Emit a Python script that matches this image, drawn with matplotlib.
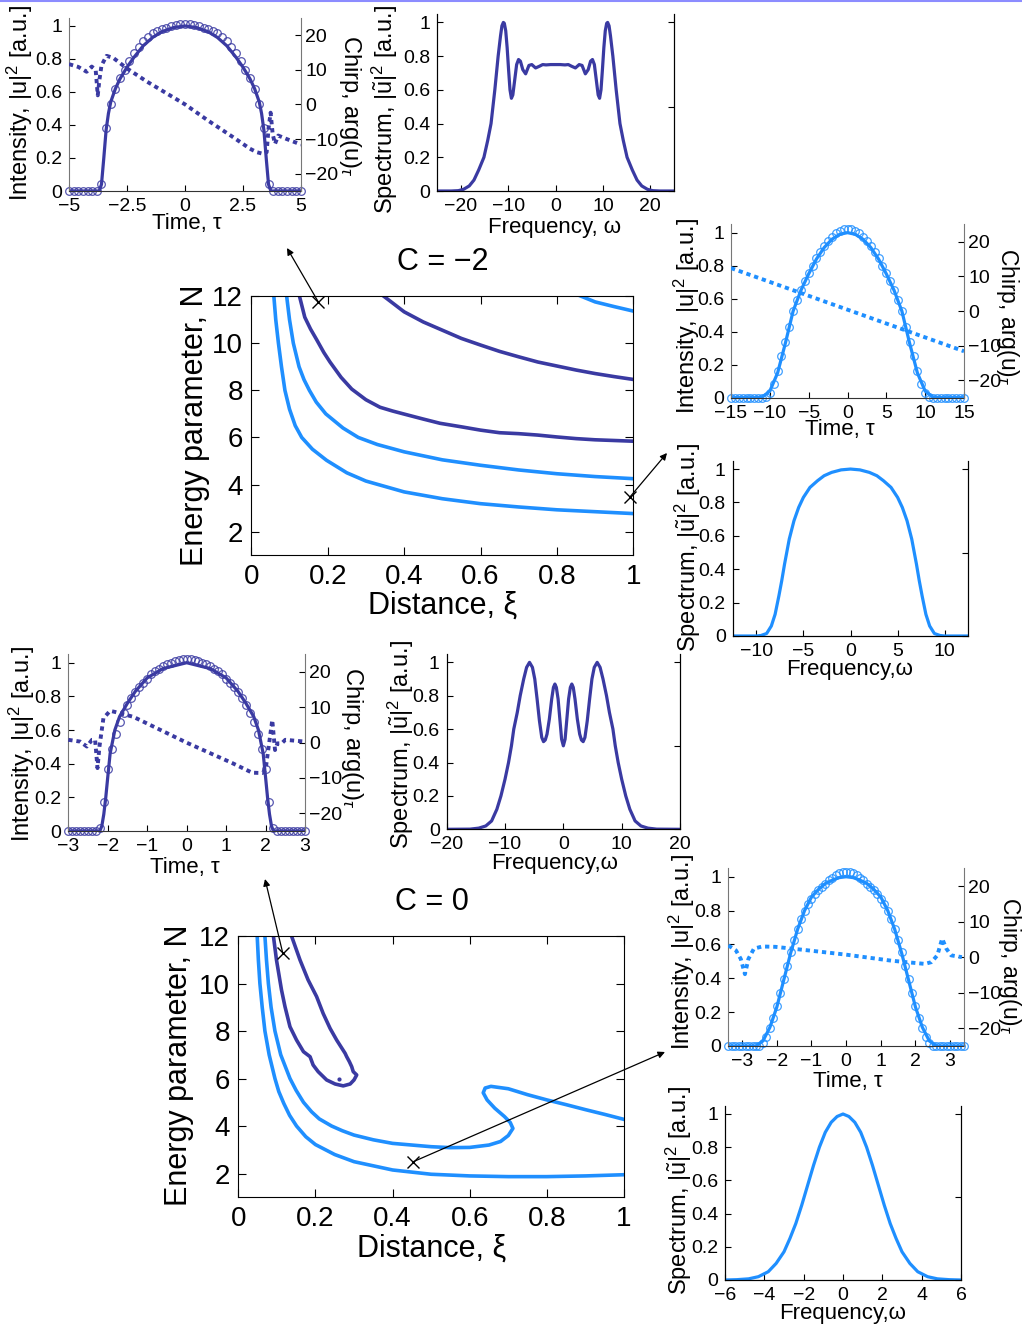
import numpy as np
import matplotlib
matplotlib.use("Agg")
import matplotlib.pyplot as plt
from matplotlib.lines import Line2D

plt.rcParams['font.family'] = ['Liberation Sans', 'DejaVu Sans']
plt.rcParams['mathtext.fontset'] = 'custom'
plt.rcParams['mathtext.rm'] = 'Liberation Sans'
plt.rcParams['mathtext.it'] = 'Liberation Sans:italic'
plt.rcParams['mathtext.sf'] = 'Liberation Sans'

DARK = '#3a3aa2'
LIGHT = '#1f8fff'

# ---- energy maps (distance xi, energy parameter N) ----
XI_TICKS = [0, 0.2, 0.4, 0.6, 0.8, 1]
XI_TICKLABELS = ['0', '0.2', '0.4', '0.6', '0.8', '1']
N_TICKS = [2, 4, 6, 8, 10, 12]

# C = -2
cm2_a_x = [0.059, 0.064, 0.071, 0.079, 0.088, 0.1, 0.115, 0.132, 0.16, 0.197, 0.25, 0.3, 0.4, 0.5, 0.6, 0.7, 0.8, 0.9, 1.0]
cm2_a_n = [12, 11, 10, 9, 8, 7.2, 6.5, 6.0, 5.5, 5.03, 4.5, 4.15, 3.69, 3.4, 3.19, 3.05, 2.93, 2.85, 2.77]
cm2_b_x = [0.0925, 0.1, 0.11, 0.125, 0.138, 0.152, 0.17, 0.195, 0.24, 0.28, 0.33, 0.4, 0.5, 0.6, 0.7, 0.8, 0.9, 1.0]
cm2_b_n = [12, 11, 10, 9, 8.45, 8, 7.5, 7, 6.4, 6.0, 5.7, 5.39, 5.05, 4.82, 4.62, 4.46, 4.34, 4.25]
cm2_c_x = [0.126, 0.14, 0.155, 0.171, 0.19, 0.206, 0.235, 0.263, 0.3, 0.337, 0.37, 0.398, 0.45, 0.494, 0.55,
           0.6, 0.65, 0.7, 0.75, 0.8, 0.85, 0.9, 0.95, 1.0]
cm2_c_n = [12, 11.1, 10.6, 10.15, 9.6, 9.2, 8.55, 8.05, 7.6, 7.28, 7.12, 7.0, 6.78, 6.6, 6.45,
           6.31, 6.2, 6.16, 6.1, 6.02, 5.95, 5.9, 5.87, 5.84]
cm2_d_x = [0.346, 0.4, 0.45, 0.5, 0.55, 0.6, 0.65, 0.7, 0.75, 0.8, 0.85, 0.9, 0.95, 1.0]
cm2_d_n = [12, 11.33, 10.9, 10.55, 10.2, 9.92, 9.65, 9.42, 9.2, 9.03, 8.86, 8.71, 8.58, 8.46]
cm2_e_x = [0.862, 0.9, 0.95, 1.0]
cm2_e_n = [12, 11.75, 11.55, 11.36]
cm2_marks = [(0.175, 11.76), (0.991, 3.47)]

# C = 0
c0_a_x = [0.049, 0.052, 0.056, 0.062, 0.069, 0.08, 0.095, 0.105, 0.118, 0.133, 0.151, 0.175, 0.2, 0.25,
          0.3, 0.4, 0.5, 0.6, 0.7, 0.8, 0.9, 1.0]
c0_a_n = [12, 11, 10, 9, 8, 7, 6, 5.45, 4.95, 4.45, 4.0, 3.55, 3.22, 2.8,
          2.5, 2.15, 1.97, 1.9, 1.87, 1.87, 1.9, 1.95]
c0_b_x = [0.069, 0.073, 0.078, 0.085, 0.095, 0.11, 0.134, 0.15, 0.169, 0.19, 0.21, 0.242, 0.27, 0.3, 0.35,
          0.4, 0.5, 0.55, 0.6, 0.65, 0.68, 0.7, 0.712, 0.705, 0.69, 0.665, 0.645, 0.635, 0.64, 0.655,
          0.7, 0.75, 0.8, 0.85, 0.9, 0.95, 1.0]
c0_b_n = [12, 11, 10, 9, 8, 7, 6, 5.5, 5, 4.6, 4.3, 4.0, 3.8, 3.62, 3.42,
          3.27, 3.13, 3.09, 3.1, 3.2, 3.35, 3.6, 3.9, 4.15, 4.4, 4.75, 5.1, 5.4, 5.6, 5.67,
          5.57, 5.32, 5.1, 4.9, 4.69, 4.49, 4.28]
c0_loop_x = [0.138, 0.16, 0.181, 0.203, 0.22, 0.238, 0.255, 0.277, 0.281, 0.288, 0.294, 0.298, 0.307, 0.3,
             0.29, 0.272, 0.251, 0.229, 0.207, 0.194, 0.186, 0.169, 0.151, 0.134, 0.121, 0.112, 0.099, 0.091]
c0_loop_n = [12, 10.99, 10.15, 9.45, 8.74, 8.11, 7.62, 7.06, 6.92, 6.71, 6.5, 6.29, 6.15, 5.94,
             5.77, 5.69, 5.77, 5.94, 6.29, 6.57, 6.92, 7.13, 7.62, 8.18, 9.03, 9.73, 10.99, 12]
c0_dot = (0.262, 6.0)
c0_marks = [(0.115, 11.3), (0.454, 2.5)]

# ---- pulse profiles: intensity (line + circles) and chirp ----
INT_TICKS = [0, 0.2, 0.4, 0.6, 0.8, 1]
INT_TICKLABELS = ['0', '0.2', '0.4', '0.6', '0.8', '1']
CHIRP_TICKS = [-20, -10, 0, 10, 20]

# C = -2, xi = 0.18
p1_t_line_half = [0, 0.5, 1.0, 1.4, 1.8, 2.2, 2.5, 2.8, 3.0, 3.2, 3.3, 3.4, 3.5, 3.6, 3.7, 5.0]
p1_i_line_half = [1.0, 0.99, 0.965, 0.93, 0.88, 0.81, 0.75, 0.68, 0.62, 0.54, 0.47, 0.37, 0.2, 0.04, 0, 0]
p1_dots_half = [1.01, 1.01, 1.005, 1.0, 0.99, 0.98, 0.97, 0.955, 0.935, 0.91, 0.875, 0.835, 0.785,
                0.735, 0.685, 0.615, 0.525, 0.38, 0.04, 0, 0, 0, 0, 0, 0, 0]
p1_t_chirp = [-5, -4.6, -4.24, -4.02, -3.85, -3.76, -3.69, -3.6, -3.5, -3.38, -3.09, -2.51, -1.65, 0,
              1.0, 2.08, 2.8, 3.09, 3.38, 3.52, 3.6, 3.69, 3.78, 3.88, 4.02, 4.38, 5]
p1_chirp = [11.6, 10.8, 9.4, 10.9, 9.9, 2.6, 7.0, 11.2, 12.5, 14.0, 13.4, 10.4, 6.6, 0,
            -4.7, -9.5, -12.8, -13.8, -14.3, -13.8, -7.0, -2.4, -8.6, -11.4, -9.0, -10.0, -11.6]

# C = -2, xi = 1
p4_t_line_half = [0, 1, 2, 3, 4, 5, 6, 7, 8, 9, 10, 11, 12, 13, 14, 15]
p4_i_line_half = [1.0, 0.99, 0.96, 0.91, 0.84, 0.75, 0.65, 0.525, 0.33, 0.15, 0.04, 0.003, 0, 0, 0, 0]
p4_dots_half = [1.02, 1.02, 1.01, 0.995, 0.975, 0.95, 0.92, 0.885, 0.845, 0.8, 0.755, 0.705, 0.65, 0.59,
                0.525, 0.43, 0.34, 0.25, 0.16, 0.085, 0.03, 0.005, 0, 0, 0, 0, 0, 0, 0, 0, 0]
p4_t_chirp = [-15, -10, -5, 0, 5, 10, 15]
p4_chirp = [12.4, 8.4, 4.4, 0.4, -3.6, -7.6, -11.6]

# C = 0, xi = 0.115
p6_t_line_half = [0, 0.6, 1.0, 1.3, 1.5, 1.7, 1.82, 1.94, 2.0, 2.05, 2.1, 2.15, 2.2, 3.0]
p6_i_line_half = [1.0, 0.965, 0.91, 0.83, 0.76, 0.68, 0.6, 0.46, 0.32, 0.2, 0.1, 0.03, 0, 0]
p6_dots_half = [1.02, 1.02, 1.015, 1.01, 1.0, 0.99, 0.98, 0.965, 0.95, 0.93, 0.905, 0.88, 0.855, 0.825,
                0.79, 0.75, 0.7, 0.645, 0.575, 0.49, 0.37, 0.17, 0.02, 0, 0, 0, 0, 0, 0, 0, 0]
p6_t_chirp = [-3, -2.7, -2.53, -2.4, -2.32, -2.26, -2.21, -2.11, -1.94, -1.82, -1.35, 0,
              1.16, 1.66, 1.92, 2.0, 2.17, 2.24, 2.3, 2.41, 2.5, 3]
p6_chirp = [0.8, 0.3, -1.1, 0.8, 0.8, -7.2, -1.1, 6.9, 9.0, 8.7, 7.3, 0,
            -5.8, -8.5, -8.6, -7.7, 6.4, -2.1, -0.2, -0.2, 0.8, 0.3]

# C = 0, xi = 0.45
p9_t_line_half = [0, 0.2, 0.4, 0.6, 0.8, 1.0, 1.2, 1.4, 1.6, 1.8, 2.0, 2.2, 2.4, 2.6, 2.8, 3.0, 3.2, 3.4]
p9_i_line_half = [1.0, 0.995, 0.98, 0.96, 0.925, 0.88, 0.8, 0.69, 0.55, 0.39, 0.23, 0.11, 0.03, 0, 0, 0, 0, 0]
p9_dots_half = [1.03, 1.03, 1.02, 1.01, 0.995, 0.98, 0.96, 0.94, 0.92, 0.9, 0.87, 0.84, 0.8, 0.75,
                0.69, 0.625, 0.555, 0.475, 0.395, 0.315, 0.235, 0.165, 0.105, 0.055, 0.02, 0.0,
                0, 0, 0, 0, 0, 0, 0, 0, 0]
p9_t_chirp = [-3.4, -3.18, -3.04, -2.92, -2.82, -2.66, -2.42, -2.04, -1.09, 0, 1.31, 2.27,
              2.46, 2.63, 2.77, 2.89, 3.03, 3.34]
p9_chirp = [3.3, 1.9, -0.5, -4.8, -0.5, 2.4, 3.0, 2.9, 1.9, 0.7, -1.0, -1.9,
            -1.4, 0.5, 5.2, 2.4, 0.5, 0.0]

# ---- spectra (half profiles, symmetric in omega) ----
p2_w_half = [0, 1.0, 2.0, 2.7, 3.4, 4.2, 5.0, 5.6, 6.3, 6.9, 7.4, 7.8, 8.2, 8.6, 9.0, 9.3, 9.6, 9.9,
             10.2, 10.5, 10.8, 11.0, 11.3, 11.6, 12.1, 12.8, 13.6, 14.3, 15.1, 16.2, 17.2, 18.2, 19.4, 20.5, 22, 25]
p2_s_half = [0.75, 0.75, 0.748, 0.75, 0.74, 0.73, 0.75, 0.745, 0.695, 0.72, 0.77, 0.78, 0.75, 0.66, 0.57, 0.55,
             0.6, 0.72, 0.85, 0.95, 0.995, 1.0, 0.98, 0.92, 0.8, 0.6, 0.4, 0.3, 0.2, 0.125, 0.065, 0.03,
             0.01, 0.002, 0, 0]
p5_w_half = [0, 1, 2, 2.8, 3.5, 4.3, 5.0, 5.5, 6.0, 6.5, 7.0, 7.3, 7.6, 8.0, 8.4, 8.9, 9.5, 10, 12.5]
p5_s_half = [1.0, 0.995, 0.98, 0.96, 0.93, 0.89, 0.83, 0.77, 0.69, 0.58, 0.43, 0.33, 0.24, 0.13, 0.06,
             0.015, 0.003, 0, 0]
p7_w_half = [0, 0.3, 0.6, 0.9, 1.2, 1.45, 1.7, 2.0, 2.4, 2.8, 3.1, 3.4, 3.7, 4.1, 4.5, 4.9, 5.3, 5.8,
             6.3, 6.8, 7.4, 7.9, 8.5, 8.9, 9.4, 10.0, 10.7, 11.4, 12.3, 13.3, 14.5, 16, 20]
p7_s_half = [0.5, 0.54, 0.66, 0.78, 0.85, 0.87, 0.85, 0.78, 0.66, 0.57, 0.535, 0.525, 0.55, 0.65, 0.78,
             0.9, 0.97, 1.0, 0.97, 0.9, 0.8, 0.7, 0.6, 0.5, 0.4, 0.3, 0.2, 0.12, 0.05, 0.02, 0.007, 0.001, 0]
p10_w_half = [0, 0.3, 0.6, 0.9, 1.2, 1.5, 1.8, 2.1, 2.4, 2.7, 3.0, 3.4, 3.8, 4.3, 4.8, 5.4, 6.0]
p10_s_half = [1.0, 0.985, 0.95, 0.89, 0.8, 0.69, 0.57, 0.45, 0.34, 0.25, 0.17, 0.1, 0.05, 0.02, 0.007,
              0.002, 0]

INT_LABEL = 'Intensity, |u|$^2$ [a.u.]'
CHIRP_LABEL = r'Chirp, arg(u)$_\tau$'
SPEC_LABEL = r'Spectrum, $|\tilde{\mathrm{u}}|^2$ [a.u.]'

W, H = 1022, 1327
fig = plt.figure(figsize=(W / 100, H / 100), dpi=100)


def add_box(x0, y0, x1, y1):
    # pixel box measured from the top-left corner
    return fig.add_axes([x0 / W, 1 - y1 / H, (x1 - x0) / W, (y1 - y0) / H])


def fig_text(x, y, s, size, rot=0):
    fig.text(x / W, 1 - y / H, s, fontsize=size, rotation=rot, ha='center', va='center')


def mirror(half_x, half_y):
    x = [-v for v in half_x[:0:-1]] + list(half_x)
    y = list(half_y[:0:-1]) + list(half_y)
    return x, y


def pulse_panel(box, tmax, xticks, xlabels, line_t, line_i, dots_i, t_chirp, chirp, color):
    ax = add_box(*box)
    t_line, i_line = mirror(line_t, line_i)
    t_dots = np.linspace(-tmax, tmax, 2 * len(dots_i) - 1)
    _, i_dots = mirror(list(t_dots[len(dots_i) - 1:]), dots_i)
    ax.plot(t_dots, i_dots, 'o', mfc='none', mec=color, ms=5.5, mew=0.9, alpha=0.85, clip_on=False)
    ax.plot(t_line, i_line, '-', color=color, lw=2.3)
    ax.set_xlim(-tmax, tmax)
    ax.set_ylim(0, 1.05)
    ax.set_xticks(xticks)
    ax.set_xticklabels(xlabels)
    ax.set_yticks(INT_TICKS)
    ax.set_yticklabels(INT_TICKLABELS)
    ax.tick_params(direction='in', length=4, labelsize=14, pad=5)
    ax.spines['top'].set_visible(False)
    ax.spines['right'].set_visible(False)
    ax.spines['left'].set_color('#777777')
    ax.spines['bottom'].set_color('#333333')

    ax2 = ax.twinx()
    ax2.plot(t_chirp, chirp, color=color, lw=2.8, ls=(0, (1.1, 1.0)))
    ax2.set_ylim(-25, 25)
    ax2.set_yticks(CHIRP_TICKS)
    ax2.tick_params(direction='in', length=4, labelsize=14, pad=3)
    for side in ['top', 'left', 'bottom']:
        ax2.spines[side].set_visible(False)
    ax2.spines['right'].set_color('#777777')
    return ax


def spectrum_panel(box, wmax, xticks, w_half, s_half, color):
    ax = add_box(*box)
    w, s = mirror(w_half, s_half)
    ax.plot(w, s, color=color, lw=2.3)
    ax.set_xlim(-wmax, wmax)
    ax.set_ylim(0, 1.05)
    ax.set_xticks(xticks)
    ax.set_yticks(INT_TICKS)
    ax.set_yticklabels(INT_TICKLABELS)
    ax.tick_params(direction='in', length=4, labelsize=14, pad=5)
    ax.spines['top'].set_visible(False)
    ax2 = ax.twinx()
    ax2.set_ylim(0, 1.05)
    ax2.set_yticks([0, 0.5, 1])
    ax2.set_yticklabels([])
    ax2.tick_params(direction='in', length=4)
    ax2.spines['top'].set_visible(False)
    return ax


def energy_map(box, curves, marks, heads):
    ax = add_box(*box)
    for xs, ns, color in curves:
        ax.plot(xs, ns, color=color, lw=2.6)
    ax.set_xlim(0, 1)
    ax.set_ylim(1, 12)
    ax.set_xticks(XI_TICKS)
    ax.set_xticklabels(XI_TICKLABELS)
    ax.set_yticks(N_TICKS)
    ax.tick_params(direction='in', length=6, labelsize=20, top=True, right=True, pad=6)
    for (x, n), (hx, hy) in zip(marks, heads):
        ax.plot(x, n, 'x', color='k', ms=8, mew=1.0, clip_on=False)
        ax.annotate('', xy=(hx / W, 1 - hy / H), xycoords='figure fraction',
                    xytext=(x, n), textcoords='data', annotation_clip=False,
                    arrowprops=dict(arrowstyle='-|>', color='k', lw=0.9,
                                    shrinkA=0, shrinkB=0, mutation_scale=10))
    return ax


# C = -2 energy map
energy_map((251.3, 296, 633.3, 555.3),
           [(cm2_a_x, cm2_a_n, LIGHT), (cm2_b_x, cm2_b_n, LIGHT), (cm2_e_x, cm2_e_n, LIGHT),
            (cm2_c_x, cm2_c_n, DARK), (cm2_d_x, cm2_d_n, DARK)],
           cm2_marks, [(287, 248), (667, 453)])
fig_text(443, 262, 'C = \u22122', 22)
fig_text(195, 425, 'Energy parameter, N', 22, 90)
fig_text(443, 606, 'Distance, \u03be', 22)

# C = 0 energy map
ax0 = energy_map((238.3, 936, 624, 1197.3),
                 [(c0_a_x, c0_a_n, LIGHT), (c0_b_x, c0_b_n, LIGHT), (c0_loop_x, c0_loop_n, DARK)],
                 c0_marks, [(265, 879), (665, 1052)])
ax0.plot(*c0_dot, 'o', color=DARK, ms=2)
fig_text(432, 902, 'C = 0', 22)
fig_text(179, 1065, 'Energy parameter, N', 22, 90)
fig_text(432, 1249, 'Distance, \u03be', 22)

# pulses
pulse_panel((69, 17.7, 301, 191), 5, [-5, -2.5, 0, 2.5, 5], ['\u22125', '\u22122.5', '0', '2.5', '5'],
            p1_t_line_half, p1_i_line_half, p1_dots_half, p1_t_chirp, p1_chirp, DARK)
fig_text(20, 103, INT_LABEL, 17, 90)
fig_text(350, 106, CHIRP_LABEL, 17, 270)
fig_text(187, 224, 'Time, \u03c4', 16)

pulse_panel((731, 224.4, 964, 397.7), 15, [-15, -10, -5, 0, 5, 10, 15],
            ['\u221215', '\u221210', '\u22125', '0', '5', '10', '15'],
            p4_t_line_half, p4_i_line_half, p4_dots_half, p4_t_chirp, p4_chirp, LIGHT)
fig_text(687, 316, INT_LABEL, 17, 90)
fig_text(1008, 317, CHIRP_LABEL, 16.5, 270)
fig_text(840, 430, 'Time, \u03c4', 16)

pulse_panel((68.3, 654.3, 305, 831), 3, [-3, -2, -1, 0, 1, 2, 3],
            ['\u22123', '\u22122', '\u22121', '0', '1', '2', '3'],
            p6_t_line_half, p6_i_line_half, p6_dots_half, p6_t_chirp, p6_chirp, DARK)
fig_text(22, 744, INT_LABEL, 17, 90)
fig_text(352, 738, CHIRP_LABEL, 17, 270)
fig_text(185, 867, 'Time, \u03c4', 16)

pulse_panel((728.3, 868.3, 964, 1046), 3.4, [-3, -2, -1, 0, 1, 2, 3],
            ['\u22123', '\u22122', '\u22121', '0', '1', '2', '3'],
            p9_t_line_half, p9_i_line_half, p9_dots_half, p9_t_chirp, p9_chirp, LIGHT)
fig_text(682, 952, INT_LABEL, 17, 90)
fig_text(1009, 966, CHIRP_LABEL, 16.5, 270)
fig_text(848, 1081, 'Time, \u03c4', 16)

# spectra
spectrum_panel((437, 14, 674, 191), 25, [-20, -10, 0, 10, 20], p2_w_half, p2_s_half, DARK)
fig_text(385, 109, SPEC_LABEL, 17, 90)
fig_text(555, 227, 'Frequency, \u03c9', 16)

spectrum_panel((732.7, 460.7, 968.3, 636), 12.5, [-10, -5, 0, 5, 10], p5_w_half, p5_s_half, LIGHT)
fig_text(688, 547, SPEC_LABEL, 17, 90)
fig_text(850, 670, 'Frequency,\u03c9', 16)

spectrum_panel((446.7, 654, 680, 829.3), 20, [-20, -10, 0, 10, 20], p7_w_half, p7_s_half, DARK)
fig_text(401, 744, SPEC_LABEL, 17, 90)
fig_text(555, 864, 'Frequency,\u03c9', 16)

spectrum_panel((725, 1105.7, 961, 1280), 6, [-6, -4, -2, 0, 2, 4, 6], p10_w_half, p10_s_half, LIGHT)
fig_text(679, 1190, SPEC_LABEL, 17, 90)
fig_text(843, 1314, 'Frequency,\u03c9', 16)

# thin rule along the top edge
fig.add_artist(Line2D([0, 1], [1 - 1.0 / H, 1 - 1.0 / H], transform=fig.transFigure,
                      color='#8c8cff', lw=1.5))

fig.savefig('out.png', dpi=100)
